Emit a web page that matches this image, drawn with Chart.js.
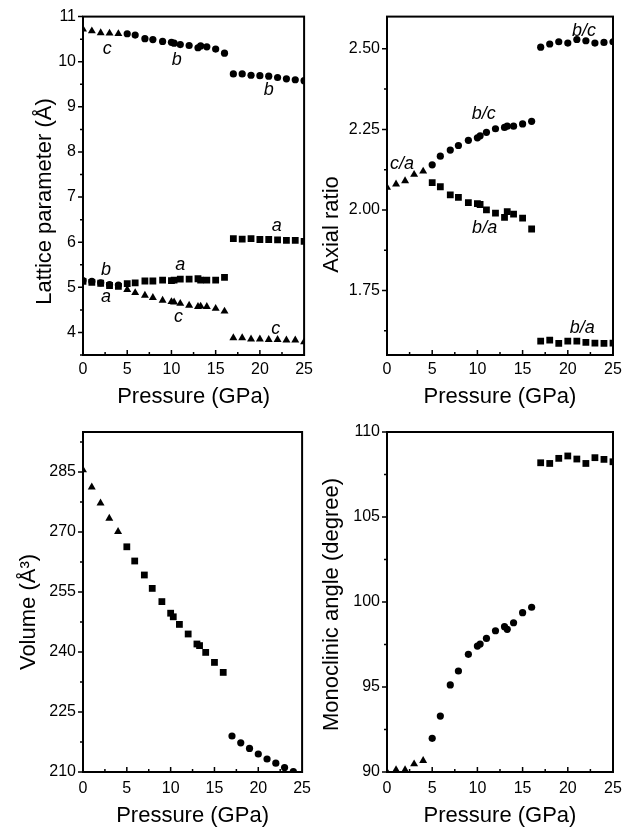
<!DOCTYPE html>
<html>
<head>
<meta charset="utf-8">
<script src="https://cdn.jsdelivr.net/npm/chart.js@4.4.0/dist/chart.umd.min.js"></script>
<style>
  body { margin: 0; background: #fff; }
  #wrap { position: relative; width: 636px; height: 833px; }
  canvas { position: absolute; }
</style>
</head>
<body>
<div id="wrap">
  <canvas id="lattice" width="318" height="410" style="left:0;top:0"></canvas>
  <canvas id="ratio" width="318" height="410" style="left:318px;top:0"></canvas>
  <canvas id="volume" width="318" height="423" style="left:0;top:410px"></canvas>
  <canvas id="angle" width="318" height="423" style="left:318px;top:410px"></canvas>
</div>
<script>
// pressures (GPa) for the three phases
const lowP = [0, 1, 2, 3, 4];
const midP = [5, 5.9, 7, 7.9, 9, 10, 10.3, 11, 12, 13, 13.3, 14, 15, 16];
const highP = [17, 18, 19, 20, 21, 22, 23, 24, 25];
const volHighP = [17, 18, 19, 20, 21, 22, 23, 24];

// lattice parameters (Å)
const cLow = [10.72, 10.68, 10.64, 10.63, 10.62];
const bLow = [5.15, 5.13, 5.10, 5.06, 5.05];
const aLow = [5.13, 5.11, 5.09, 5.04, 5.02];
const bMid = [10.62, 10.59, 10.51, 10.49, 10.45, 10.43, 10.41, 10.38, 10.36, 10.31, 10.35, 10.33, 10.28, 10.19];
const aMid = [5.08, 5.10, 5.14, 5.14, 5.16, 5.15, 5.16, 5.18, 5.18, 5.19, 5.16, 5.16, 5.16, 5.22];
const cMid = [4.95, 4.88, 4.82, 4.77, 4.71, 4.68, 4.67, 4.64, 4.60, 4.57, 4.58, 4.57, 4.53, 4.47];
const bHigh = [9.73, 9.73, 9.70, 9.69, 9.68, 9.65, 9.62, 9.60, 9.58];
const aHigh = [6.08, 6.07, 6.08, 6.06, 6.06, 6.05, 6.04, 6.04, 6.02];
const cHigh = [3.88, 3.88, 3.85, 3.85, 3.84, 3.84, 3.83, 3.83, 3.79];

// axial ratios
const caLow = [2.07, 2.08, 2.09, 2.11, 2.12];
const bcMid = [2.14, 2.167, 2.186, 2.20, 2.216, 2.224, 2.23, 2.241, 2.252, 2.256, 2.26, 2.26, 2.267, 2.275];
const baMid = [2.085, 2.072, 2.047, 2.039, 2.023, 2.02, 2.017, 2.00, 1.99, 1.977, 1.995, 1.987, 1.975, 1.941];
const bcHigh = [2.505, 2.515, 2.522, 2.518, 2.529, 2.525, 2.518, 2.52, 2.522];
const baHigh = [1.593, 1.596, 1.586, 1.593, 1.593, 1.589, 1.587, 1.586, 1.587];

// volume (Å^3)
const volLow = [285.5, 281.2, 277.2, 273.4, 270.1];
const volMid = [266.3, 262.75, 259.25, 255.9, 252.6, 249.7, 248.8, 246.9, 244.5, 242, 241.6, 239.9, 237.4, 234.9];
const volHigh = [219, 217.3, 215.9, 214.5, 213.25, 212.2, 211.1, 210.1];

// monoclinic angle (degree)
const angLow = [90.0, 90.12, 90.12, 90.47, 90.67];
const angMid = [91.98, 93.29, 95.12, 95.94, 96.92, 97.41, 97.53, 97.86, 98.31, 98.55, 98.39, 98.78, 99.37, 99.69];
const angHigh = [108.19, 108.15, 108.45, 108.59, 108.41, 108.15, 108.49, 108.39, 108.25];

// curve labels: [text, pressure, value]
const latticeLabels = [
  ['c', 2.75, 10.28], ['b', 10.6, 10.03], ['b', 21.0, 9.37],
  ['a', 21.9, 6.37], ['b', 2.6, 5.38], ['a', 11.0, 5.49],
  ['a', 2.6, 4.78], ['c', 10.8, 4.34], ['c', 21.8, 4.07]
];
const ratioLabels = [
  ['b/c', 21.8, 2.556], ['b/c', 10.7, 2.297], ['c/a', 1.66, 2.143],
  ['b/a', 10.8, 1.945], ['b/a', 21.6, 1.633]
];

const FONT = '"Liberation Sans", Arial, Helvetica, sans-serif';
Chart.defaults.font.family = FONT;
Chart.defaults.color = '#000';

const RADIUS = { circle: 3.6, rect: 4.8, triangle: 4.6 };

function series(xs, ys, shape) {
  return {
    data: ys.map((v, i) => ({ x: xs[i], y: v })),
    pointStyle: shape,
    pointRadius: RADIUS[shape],
    backgroundColor: '#000',
    borderColor: '#000',
    borderWidth: 0,
    showLine: false
  };
}

// box frame, minor/major ticks, y title and curve labels
const decor = {
  id: 'decor',
  afterDatasetsDraw(chart, args, opts) {
    const { ctx, chartArea: a, scales: { x, y } } = chart;
    ctx.save();
    ctx.strokeStyle = '#000';
    ctx.lineWidth = 1.5;
    ctx.beginPath();
    const yHalf = opts.yStep / 2;
    const n0 = Math.ceil(y.min / yHalf - 1e-6);
    for (let n = n0; n * yHalf <= y.max + 1e-9; n++) {
      const py = y.getPixelForValue(n * yHalf);
      const len = n % 2 === 0 ? 5 : 3;
      ctx.moveTo(a.left, py);
      ctx.lineTo(a.left - len, py);
    }
    for (let n = 1; n * 2.5 < 25; n++) {
      const px = x.getPixelForValue(n * 2.5);
      const len = n % 2 === 0 ? 5 : 3;
      ctx.moveTo(px, a.bottom);
      ctx.lineTo(px, a.bottom - len);
    }
    ctx.stroke();
    ctx.lineWidth = 2;
    ctx.strokeRect(a.left, a.top, a.right - a.left, a.bottom - a.top);

    ctx.fillStyle = '#000';
    ctx.textAlign = 'center';
    ctx.textBaseline = 'middle';
    ctx.font = 'italic 18px ' + FONT;
    (opts.labels || []).forEach(([t, p, v]) => {
      ctx.fillText(t, x.getPixelForValue(p), y.getPixelForValue(v));
    });

    ctx.font = '22px ' + FONT;
    ctx.translate(opts.titleX, opts.titleY);
    ctx.rotate(-Math.PI / 2);
    ctx.fillText(opts.title, 0, 0);
    ctx.restore();
  }
};

function makeChart(id, datasets, cfg) {
  return new Chart(document.getElementById(id), {
    type: 'scatter',
    data: { datasets },
    plugins: [decor],
    options: {
      responsive: false,
      animation: false,
      layout: { padding: { top: cfg.padTop, right: cfg.padRight, left: 0, bottom: 0 } },
      plugins: {
        legend: { display: false },
        tooltip: { enabled: false },
        decor: {
          yStep: cfg.yStep, labels: cfg.labels,
          title: cfg.title, titleX: cfg.titleX, titleY: cfg.titleY
        }
      },
      scales: {
        x: {
          type: 'linear', min: 0, max: 25,
          ticks: { stepSize: 5, padding: cfg.xPad, font: { size: 16 }, color: '#000', maxRotation: 0 },
          grid: { display: false, drawTicks: false },
          border: { display: false },
          title: {
            display: true, text: 'Pressure (GPa)', color: '#000',
            font: { size: 22 }, padding: { top: 0, bottom: cfg.xTitlePad }
          },
          afterFit: s => { s.height = cfg.xHeight; }
        },
        y: {
          type: 'linear', min: cfg.yMin, max: cfg.yMax,
          ticks: {
            stepSize: cfg.yStep, includeBounds: false, padding: 7,
            font: { size: 16 }, color: '#000',
            callback: v => v.toFixed(cfg.decimals)
          },
          grid: { display: false, drawTicks: false },
          border: { display: false },
          afterFit: s => { s.width = cfg.yWidth; }
        }
      }
    }
  });
}

makeChart('lattice', [
  series(lowP, cLow, 'triangle'), series(lowP, aLow, 'rect'), series(lowP, bLow, 'circle'),
  series(midP, bMid, 'circle'), series(midP, aMid, 'rect'), series(midP, cMid, 'triangle'),
  series(highP, bHigh, 'circle'), series(highP, aHigh, 'rect'), series(highP, cHigh, 'triangle')
], {
  yMin: 3.5, yMax: 11, yStep: 1, decimals: 0, yWidth: 83, xHeight: 55,
  padTop: 15, padRight: 8, xPad: 5, xTitlePad: 0, labels: latticeLabels,
  title: 'Lattice parameter (Å)', titleX: 45, titleY: 201.5
});

makeChart('ratio', [
  series(lowP, caLow, 'triangle'),
  series(midP, bcMid, 'circle'), series(midP, baMid, 'rect'),
  series(highP, bcHigh, 'circle'), series(highP, baHigh, 'rect')
], {
  yMin: 1.55, yMax: 2.6, yStep: 0.25, decimals: 2, yWidth: 69, xHeight: 55,
  padTop: 15, padRight: 23, xPad: 5, xTitlePad: 0, labels: ratioLabels,
  title: 'Axial ratio', titleX: 13.5, titleY: 224.5
});

makeChart('volume', [
  series(lowP, volLow, 'triangle'), series(midP, volMid, 'rect'), series(volHighP, volHigh, 'circle')
], {
  yMin: 210, yMax: 295, yStep: 15, decimals: 0, yWidth: 83, xHeight: 61,
  padTop: 22, padRight: 8, xPad: 7, xTitlePad: 4, labels: [],
  title: 'Volume (Å³)', titleX: 28.5, titleY: 202
});

makeChart('angle', [
  series(lowP, angLow, 'triangle'), series(midP, angMid, 'circle'), series(highP, angHigh, 'rect')
], {
  yMin: 90, yMax: 110, yStep: 5, decimals: 0, yWidth: 69, xHeight: 61,
  padTop: 22, padRight: 23, xPad: 7, xTitlePad: 4, labels: [],
  title: 'Monoclinic angle (degree)', titleX: 14, titleY: 194.5
});
</script>
</body>
</html>
